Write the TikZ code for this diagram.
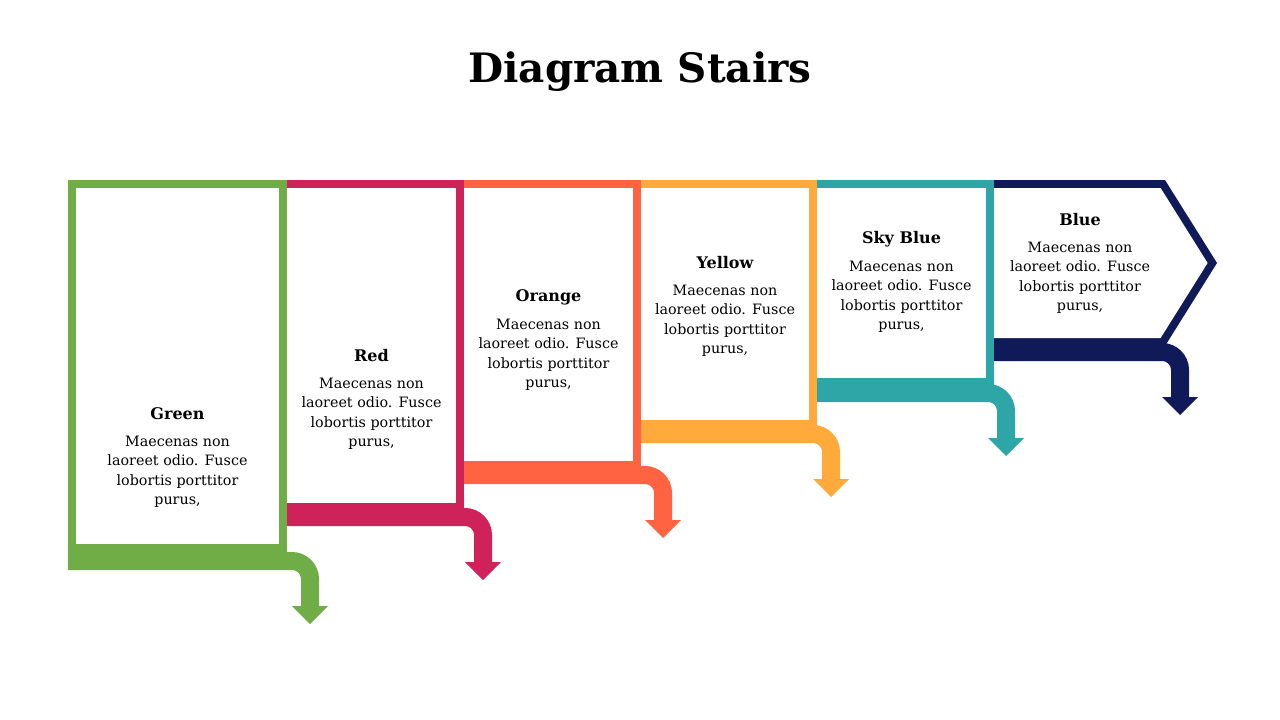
\documentclass[tikz,border=0pt]{standalone}
\usepackage{fontspec}
\setmainfont{DejaVu Serif}
\definecolor{cgreen}{HTML}{70AD47}
\definecolor{cred}{HTML}{D0225A}
\definecolor{corange}{HTML}{FF6341}
\definecolor{cyellow}{HTML}{FFAA3A}
\definecolor{csky}{HTML}{2EA6A8}
\definecolor{cblue}{HTML}{101A58}
\tikzset{
  ttl/.style={font=\bfseries\fontsize{16}{18}\selectfont, inner sep=0pt},
  bodytxt/.style={font=\fontsize{14.3}{19.5}\selectfont, align=center, inner sep=0pt},
  band/.style={line width=18pt, rounded corners=18pt},
}
\newcommand\stairblk[8]{%
  \fill[#1] (#2,180) rectangle (#3,{#6-9});
  \fill[white] ({#2+#4},188) rectangle ({#3-8},#5);
  \coordinate (#8s) at (#2,{#6-9});
  \coordinate (#8c) at (#7,{#6-9});
  \coordinate (#8h) at (#7,{#6+36});
  \coordinate (#8t) at (#7,{#6+54});
  \draw[band,#1] (#8s) -- (#8c) -- ([yshift=-1pt]#8h);
  \fill[#1] ([xshift=-18pt]#8h) -- ([xshift=18pt]#8h) -- (#8t) -- cycle;
}
\newcommand\bodytext{Maecenas non\\laoreet odio. Fusce\\lobortis porttitor\\purus,}
\begin{document}
\begin{tikzpicture}[x=1pt,y=-1pt]
\useasboundingbox (0,0) rectangle (1280,720);
\node[font=\bfseries\fontsize{40.5}{46}\selectfont, inner sep=0pt] (title) at (640,72) {Diagram Stairs};
% blocks
\stairblk{cgreen}{68}{287}{8}{544}{570}{310}{g}
\stairblk{cred}{287}{464}{0}{503}{526}{483}{r}
\stairblk{corange}{464}{641}{0}{461}{484}{663}{o}
\stairblk{cyellow}{641}{817}{0}{420}{443}{831}{y}
\stairblk{csky}{817}{994}{0}{378}{402}{1006}{k}
% blue chevron
\fill[cblue] (994,180) -- (1165,180) -- (1217,263) -- (1165,346) -- (994,346) -- cycle;
\fill[white] (994,188) -- (1160.6,188) -- (1207.6,263) -- (1160.6,338) -- (994,338) -- cycle;
\coordinate (bs) at (994,352);
\coordinate (bc) at (1180,352);
\coordinate (bh) at (1180,397);
\coordinate (bt) at (1180,415);
\draw[band,cblue] (bs) -- (bc) -- ([yshift=-1pt]bh);
\fill[cblue] ([xshift=-18pt]bh) -- ([xshift=18pt]bh) -- (bt) -- cycle;
% texts
\node[ttl] (gT) at (177.5,414) {Green};
\node[bodytxt] (gB) at (177.5,472) {\bodytext};
\node[ttl] (rT) at (371.5,356) {Red};
\node[bodytxt] (rB) at (371.5,414) {\bodytext};
\node[ttl] (oT) at (548.5,297) {Orange};
\node[bodytxt] (oB) at (548.5,355) {\bodytext};
\node[ttl] (yT) at (725,263) {Yellow};
\node[bodytxt] (yB) at (725,321) {\bodytext};
\node[ttl] (kT) at (901.5,239) {Sky Blue};
\node[bodytxt] (kB) at (901.5,297) {\bodytext};
\node[ttl] (bT) at (1080,220) {Blue};
\node[bodytxt] (bB) at (1080,278) {\bodytext};
\end{tikzpicture}
\end{document}
